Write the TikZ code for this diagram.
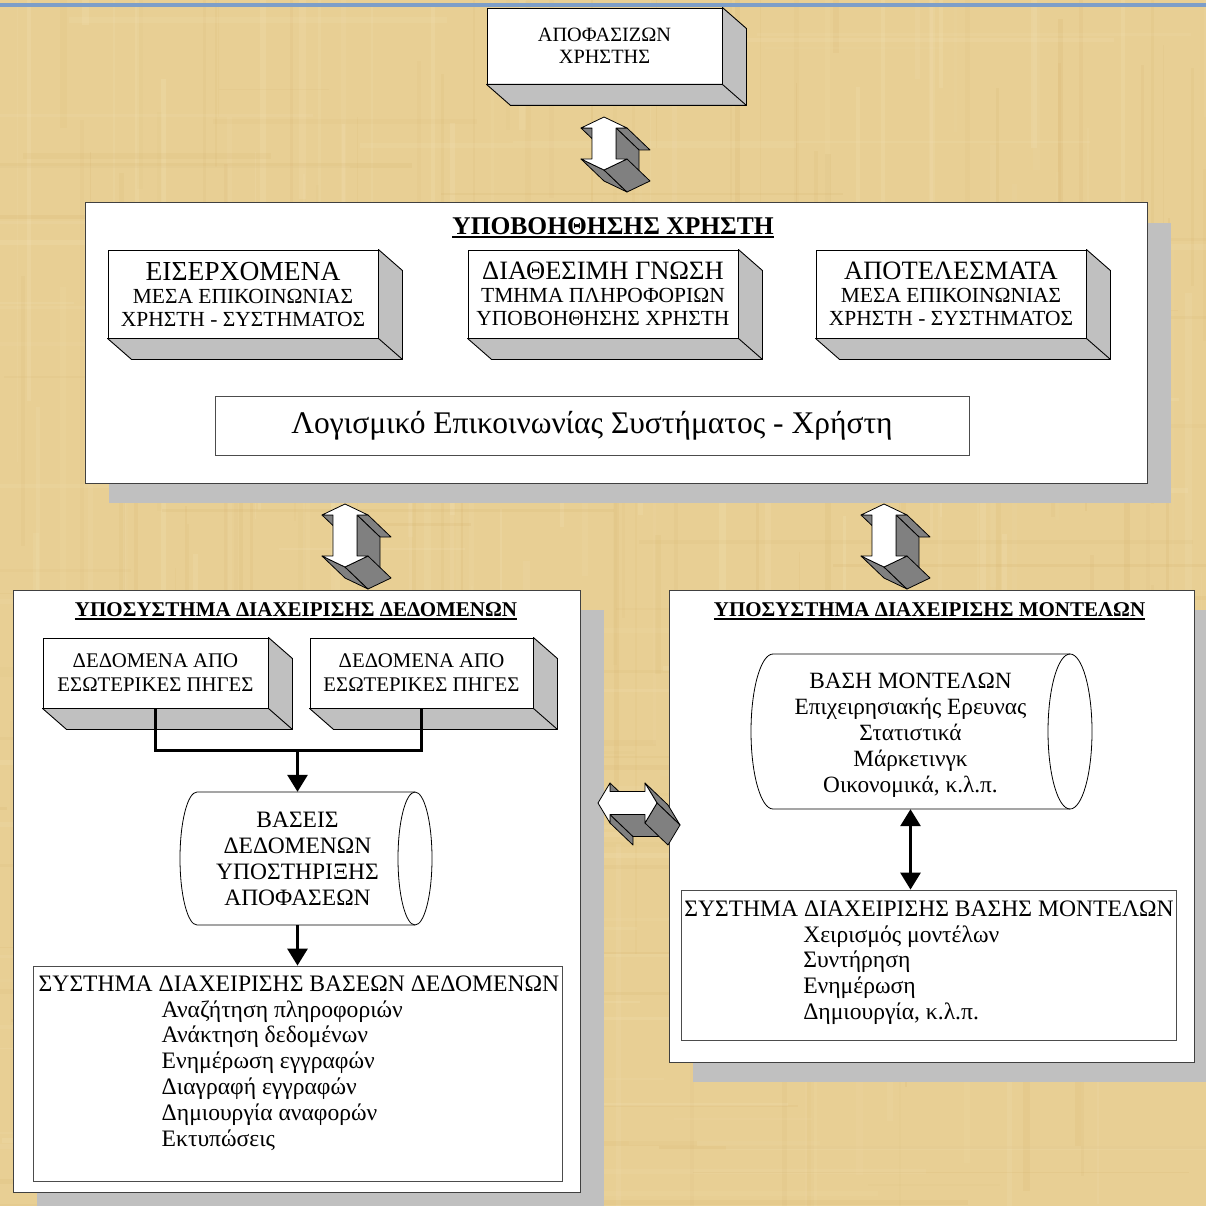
\documentclass[tikz,border=0pt]{standalone}
\usepackage{fontspec}
\setmainfont{Liberation Serif}
\usetikzlibrary{calc,arrows.meta,shadows}
\definecolor{pap}{RGB}{232,207,148}
\definecolor{papdark}{RGB}{205,165,90}
\definecolor{paplight}{RGB}{246,232,192}
\definecolor{shadowgray}{RGB}{192,192,192}
\definecolor{arrgray}{RGB}{128,128,128}
\definecolor{topline}{RGB}{125,158,200}
\newcommand\fsz[2]{\fontsize{#1pt}{#2pt}\selectfont}
\newcommand\ulx[1]{\setbox0\hbox{#1}\rlap{\rule[-3.5pt]{\wd0}{1.7pt}}\box0}
\tikzset{
  front/.style={draw=black, line width=0.9pt, fill=white, inner sep=0pt, align=center},
  panel/.style={draw=black!75, line width=1pt, fill=white, inner sep=0pt,
    drop shadow={shadow xshift=24pt, shadow yshift=-20pt, fill=shadowgray, opacity=1}},
  thinbox/.style={draw=black!70, line width=0.8pt, fill=white, inner sep=0pt},
  ttl/.style={inner sep=0pt, anchor=base, font=\fsz{21}{21}\bfseries},
  txt/.style={inner sep=0pt, align=center},
  listtxt/.style={inner sep=0pt, align=left, anchor=north, font=\fsz{23.6}{25.8}},
  arrface/.style={fill=arrgray, draw=black, line width=0.8pt, line join=round},
  arrfront/.style={fill=white, draw=black, line width=0.8pt, line join=round},
  depthface/.style={fill=shadowgray, draw=black, line width=0.9pt, line join=round},
  conn/.style={draw=black, line width=3pt},
  tip/.style={-{Triangle[width=20pt,length=17pt]}},
  tips/.style={{Triangle[width=20pt,length=17pt]}-{Triangle[width=20pt,length=17pt]}},
  cylface/.style={fill=white, draw=black, line width=0.8pt}
}
% depth faces of a 3D box
\newcommand\boxdepth[1]{%
  \path[depthface] (#1.north east) -- ($(#1.north east)+(24,21)$) -- ($(#1.south east)+(24,21)$)
     -- ($(#1.south west)+(24,21)$) -- (#1.south west) -- (#1.south east) -- cycle;
  \draw[black, line width=0.9pt] (#1.south east) -- ($(#1.south east)+(24,21)$);}
% vertical 3D double arrow: tip x, tip y, length
\newcommand\vdarrow[3]{%
  \begin{scope}[shift={(#1,#2)}]
  \path[arrface] (-12,11) -- (-23,11) -- (0,33) -- (11,33) -- cycle;
  \path[arrface] (23,11) -- (12,11) -- (35,33) -- (46,33) -- cycle;
  \path[arrface] (12,11) -- (12,{#3-11}) -- (35,{#3+11}) -- (35,33) -- cycle;
  \path[arrface] (0,#3) -- (-23,{#3-11}) -- (0,{#3+11}) -- (23,{#3+22}) -- cycle;
  \path[arrface] (23,{#3-11}) -- (0,#3) -- (23,{#3+22}) -- (46,{#3+11}) -- cycle;
  \path[arrfront] (0,0) -- (23,11) -- (12,11) -- (12,{#3-11}) -- (23,{#3-11}) -- (0,#3)
     -- (-23,{#3-11}) -- (-12,{#3-11}) -- (-12,11) -- (-23,11) -- cycle;
  \end{scope}}
% horizontal 3D double arrow: left tip x, y, length
\newcommand\hdarrow[3]{%
  \begin{scope}[shift={(#1,#2)}]
  \path[arrface] (12,-20) -- (12,-11.5) -- (35,10.5) -- (35,2) -- cycle;
  \path[arrface] (12,11.5) -- (12,20) -- (35,42) -- (35,33.5) -- cycle;
  \path[arrface] ({#3-12},11.5) -- (12,11.5) -- (35,33.5) -- ({#3+11},33.5) -- cycle;
  \path[arrface] ({#3-12},-20) -- (#3,0) -- ({#3+23},22) -- ({#3+11},2) -- cycle;
  \path[arrface] (#3,0) -- ({#3-12},20) -- ({#3+11},42) -- ({#3+23},22) -- cycle;
  \path[arrfront] (0,0) -- (12,-20) -- (12,-11.5) -- ({#3-12},-11.5) -- ({#3-12},-20) -- (#3,0)
     -- ({#3-12},20) -- ({#3-12},11.5) -- (12,11.5) -- (12,20) -- cycle;
  \end{scope}}
% horizontal cylinder around a coordinate: name, left corner dx, right corner dx, rx, ry
\newcommand\cyl[5]{%
  \path[cylface] ($(#1)+(#2,-#5)$) arc[start angle=90, end angle=270, x radius=#4pt, y radius=#5pt]
     -- ($(#1)+(#3,#5)$) arc[start angle=-90, end angle=90, x radius=#4pt, y radius=#5pt] -- cycle;
  \draw[black, line width=0.8pt] ($(#1)+(#3,-#5)$) arc[start angle=90, end angle=270, x radius=#4pt, y radius=#5pt];}

\begin{document}
\begin{tikzpicture}[x=1pt, y=-1pt]
\useasboundingbox (0,0) rectangle (1206,1206);
\clip (0,0) rectangle (1206,1206);
% parchment background
\fill[pap] (0,0) rectangle (1206,1206);
\pgfmathsetseed{42}
\foreach \i in {1,...,110}{
  \pgfmathsetmacro\xx{rnd*1206}
  \pgfmathsetmacro\ww{1+rnd*6}
  \pgfmathsetmacro\yy{rnd*1100-200}
  \pgfmathsetmacro\hh{100+rnd*500}
  \pgfmathsetmacro\oo{0.04+0.10*rnd}
  \fill[papdark, opacity=\oo] (\xx,\yy) rectangle ++(\ww,\hh);
}
\foreach \i in {1,...,110}{
  \pgfmathsetmacro\xx{rnd*1206}
  \pgfmathsetmacro\ww{1+rnd*6}
  \pgfmathsetmacro\yy{rnd*1100-200}
  \pgfmathsetmacro\hh{100+rnd*500}
  \pgfmathsetmacro\oo{0.06+0.14*rnd}
  \fill[paplight, opacity=\oo] (\xx,\yy) rectangle ++(\ww,\hh);
}
\foreach \i in {1,...,80}{
  \pgfmathsetmacro\yy{rnd*1206}
  \pgfmathsetmacro\hh{1+rnd*5}
  \pgfmathsetmacro\xx{rnd*1100-200}
  \pgfmathsetmacro\ww{100+rnd*500}
  \pgfmathsetmacro\oo{0.04+0.10*rnd}
  \fill[papdark, opacity=\oo] (\xx,\yy) rectangle ++(\ww,\hh);
}
\foreach \i in {1,...,80}{
  \pgfmathsetmacro\yy{rnd*1206}
  \pgfmathsetmacro\hh{1+rnd*5}
  \pgfmathsetmacro\xx{rnd*1100-200}
  \pgfmathsetmacro\ww{100+rnd*500}
  \pgfmathsetmacro\oo{0.06+0.12*rnd}
  \fill[paplight, opacity=\oo] (\xx,\yy) rectangle ++(\ww,\hh);
}
\fill[topline] (0,3.3) rectangle (1206,6.7);

% top user box
\node[front, minimum width=235pt, minimum height=76pt, font=\fsz{20.3}{22}] (user) at (604.5,46) {ΑΠΟΦΑΣΙΖΩΝ\\ΧΡΗΣΤΗΣ};
\boxdepth{user}
\vdarrow{604}{117}{53}

% user support panel
\node[panel, minimum width=1062pt, minimum height=280pt] (help) at (616,343) {};
\node[ttl, font=\fsz{25.5}{25.5}\bfseries] (helpT) at (613,234.5) {\ulx{ΥΠΟΒΟΗΘΗΣΗΣ ΧΡΗΣΤΗ}};
\node[front, minimum width=270pt, minimum height=88pt, font=\fsz{21.5}{23}] (inA) at (243,294)
  {{\fsz{27.5}{23}ΕΙΣΕΡΧΟΜΕΝΑ}\\ΜΕΣΑ ΕΠΙΚΟΙΝΩΝΙΑΣ\\ΧΡΗΣΤΗ - ΣΥΣΤΗΜΑΤΟΣ};
\boxdepth{inA}
\node[front, minimum width=270pt, minimum height=88pt, font=\fsz{21.5}{23}] (inB) at (603,294)
  {{\fsz{26.5}{23}ΔΙΑΘΕΣΙΜΗ ΓΝΩΣΗ}\\ΤΜΗΜΑ ΠΛΗΡΟΦΟΡΙΩΝ\\ΥΠΟΒΟΗΘΗΣΗΣ ΧΡΗΣΤΗ};
\boxdepth{inB}
\node[front, minimum width=270pt, minimum height=88pt, font=\fsz{21.5}{23}] (inC) at (951,294)
  {{\fsz{26.5}{23}ΑΠΟΤΕΛΕΣΜΑΤΑ}\\ΜΕΣΑ ΕΠΙΚΟΙΝΩΝΙΑΣ\\ΧΡΗΣΤΗ - ΣΥΣΤΗΜΑΤΟΣ};
\boxdepth{inC}
\node[thinbox, minimum width=754pt, minimum height=59pt, font=\fsz{31.5}{31.5}] (soft) at (592,425.5)
  {Λογισμικό Επικοινωνίας Συστήματος - Χρήστη};

% data subsystem
\node[panel, minimum width=567pt, minimum height=602pt] (data) at (296.5,891) {};
\node[ttl] (dataT) at (296,616) {\ulx{ΥΠΟΣΥΣΤΗΜΑ ΔΙΑΧΕΙΡΙΣΗΣ ΔΕΔΟΜΕΝΩΝ}};
\node[front, minimum width=225pt, minimum height=70pt, font=\fsz{20.8}{24}] (d1) at (155.5,673)
  {ΔΕΔΟΜΕΝΑ ΑΠΟ\\ΕΣΩΤΕΡΙΚΕΣ ΠΗΓΕΣ};
\boxdepth{d1}
\node[front, minimum width=223pt, minimum height=70pt, font=\fsz{20.8}{24}] (d2) at (421.5,673)
  {ΔΕΔΟΜΕΝΑ ΑΠΟ\\ΕΣΩΤΕΡΙΚΕΣ ΠΗΓΕΣ};
\boxdepth{d2}
\coordinate (jn) at (297.5,750);
\coordinate (dbc) at (297.5,858.5);
\cyl{dbc}{-100.5}{117.5}{17}{66.5}
\node[txt, minimum height=133pt, font=\fsz{23.5}{26}] (db) at (dbc)
  {ΒΑΣΕΙΣ\\ΔΕΔΟΜΕΝΩΝ\\ΥΠΟΣΤΗΡΙΞΗΣ\\ΑΠΟΦΑΣΕΩΝ};
\node[thinbox, minimum width=529pt, minimum height=215pt] (dbms) at (297.5,1073.5) {};
\node[listtxt] (dbmsT) at (299,975.4)
  {ΣΥΣΤΗΜΑ ΔΙΑΧΕΙΡΙΣΗΣ ΒΑΣΕΩΝ ΔΕΔΟΜΕΝΩΝ\\
   \hspace*{123pt}Αναζήτηση πληροφοριών\\
   \hspace*{123pt}Ανάκτηση δεδομένων\\
   \hspace*{123pt}Ενημέρωση εγγραφών\\
   \hspace*{123pt}Διαγραφή εγγραφών\\
   \hspace*{123pt}Δημιουργία αναφορών\\
   \hspace*{123pt}Εκτυπώσεις};
\draw[conn] (d1.south) -- (d1.south |- jn) -- (d2.south |- jn) -- (d2.south);
\draw[conn, tip] (jn) -- (db.north);
\draw[conn, tip] (db.south) -- (db.south |- dbms.north);

% model subsystem
\node[panel, minimum width=525pt, minimum height=472pt] (model) at (931.5,826) {};
\node[ttl] (modelT) at (929.5,616) {\ulx{ΥΠΟΣΥΣΤΗΜΑ ΔΙΑΧΕΙΡΙΣΗΣ ΜΟΝΤΕΛΩΝ}};
\coordinate (mbc) at (910.5,731.5);
\cyl{mbc}{-137.5}{159.5}{22}{77.5}
\node[txt, minimum height=155pt, font=\fsz{23.3}{26}] (mb) at (mbc)
  {\rule{0pt}{23.5pt}ΒΑΣΗ ΜΟΝΤΕΛΩΝ\\Επιχειρησιακής Ερευνας\\Στατιστικά\\Μάρκετινγκ\\Οικονομικά, κ.λ.π.};
\node[thinbox, minimum width=495pt, minimum height=150pt] (mdbms) at (928.5,965) {};
\node[listtxt] (mdbmsT) at (929,900.4)
  {ΣΥΣΤΗΜΑ ΔΙΑΧΕΙΡΙΣΗΣ ΒΑΣΗΣ ΜΟΝΤΕΛΩΝ\\
   \hspace*{119pt}Χειρισμός μοντέλων\\
   \hspace*{119pt}Συντήρηση\\
   \hspace*{119pt}Ενημέρωση\\
   \hspace*{119pt}Δημιουργία, κ.λ.π.};
\draw[conn, tips] (mb.south) -- (mb.south |- mdbms.north);

% 3D arrows between parts
\vdarrow{345}{504}{63}
\vdarrow{884}{504}{63}
\hdarrow{598}{803}{59}
\end{tikzpicture}
\end{document}
